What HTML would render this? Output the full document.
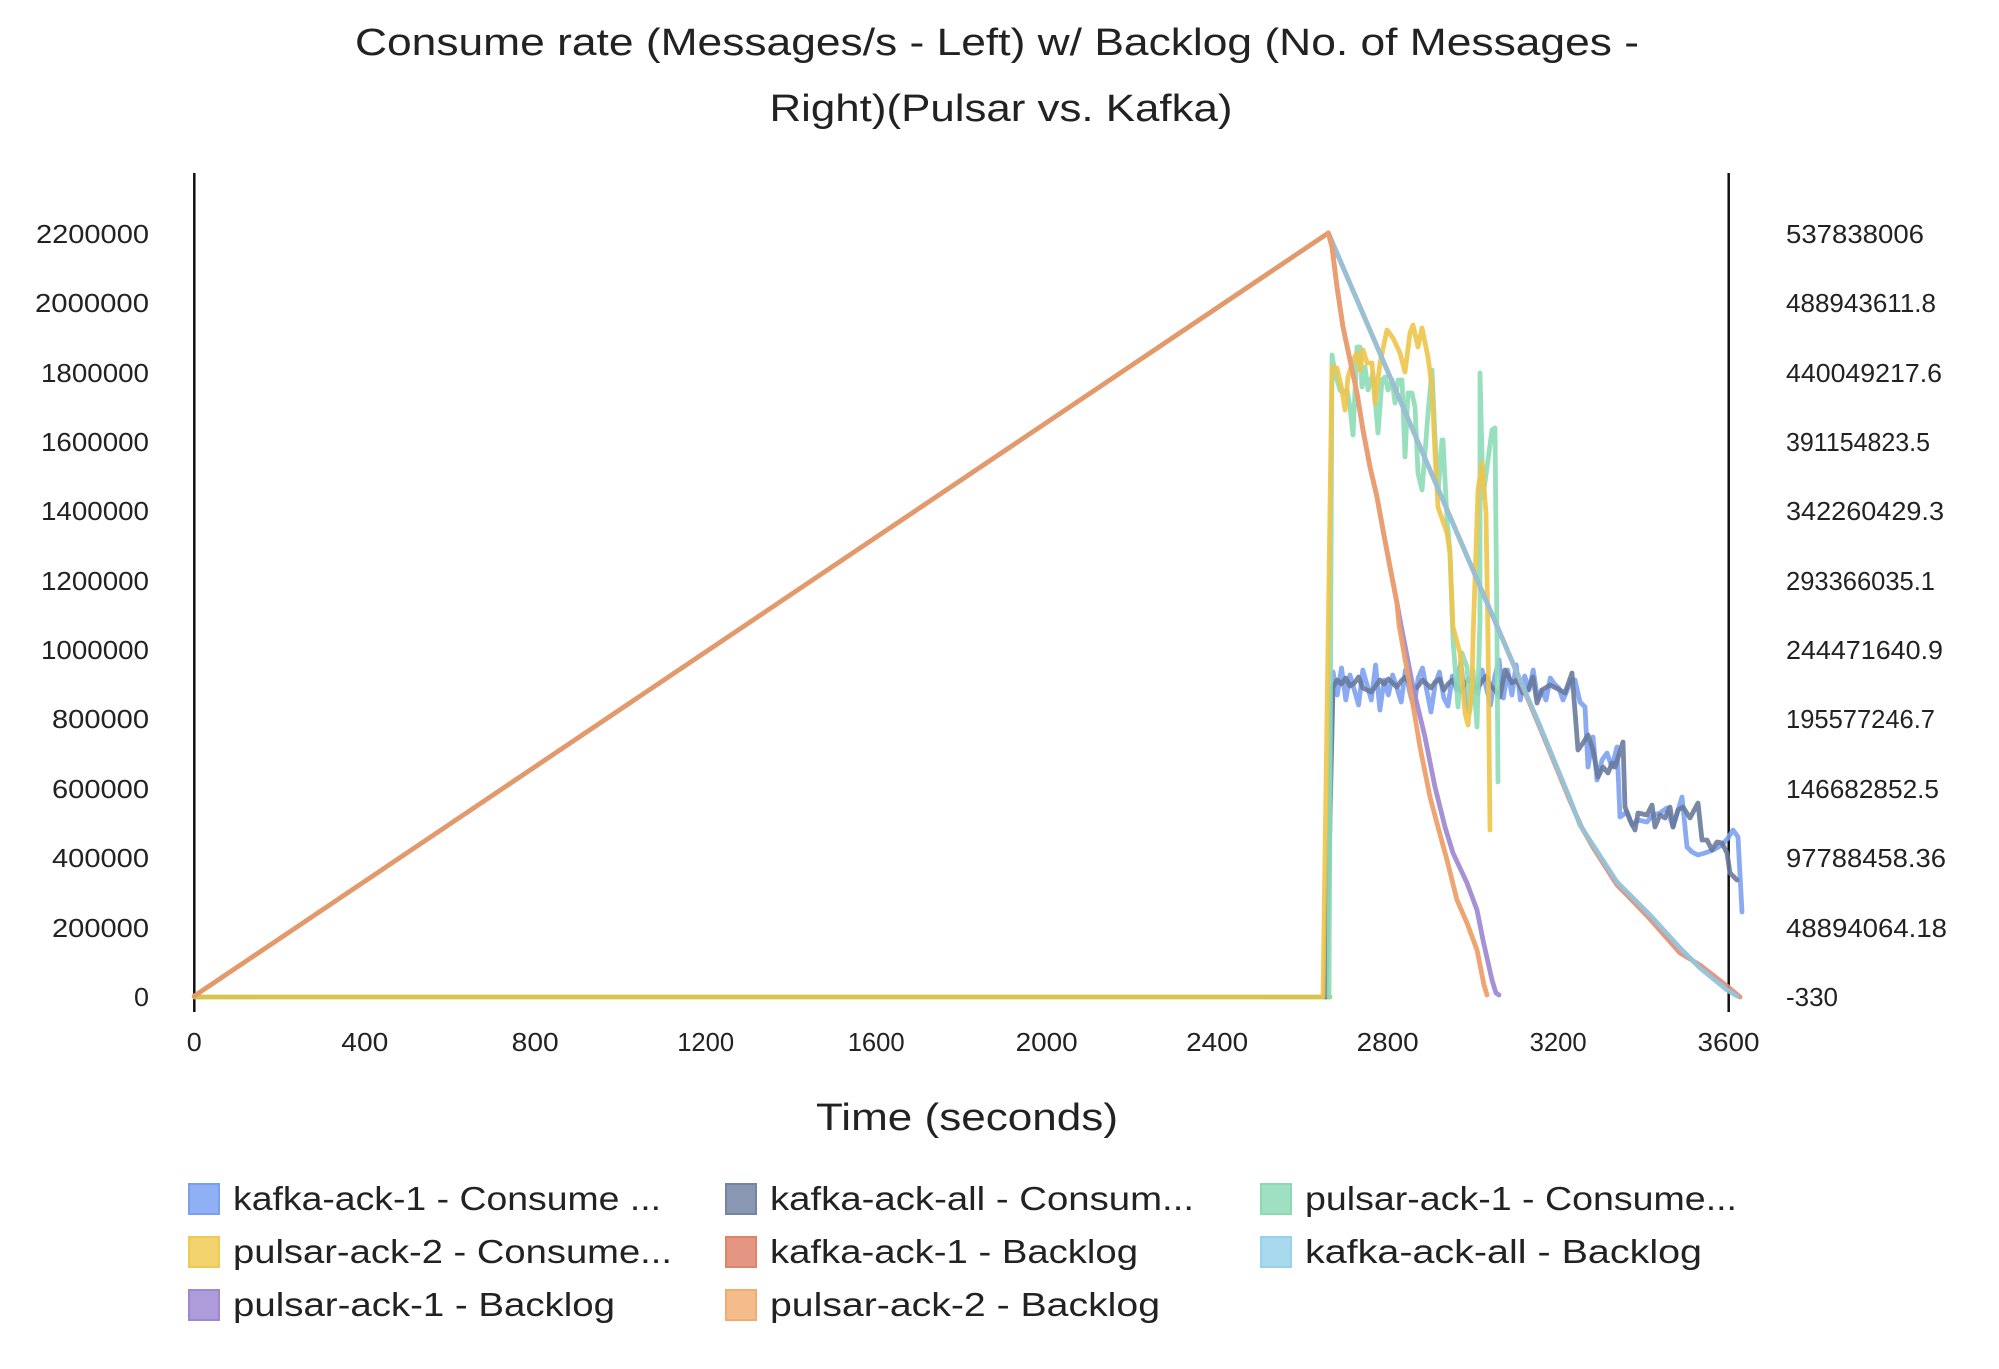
<!DOCTYPE html>
<html>
<head>
<meta charset="utf-8">
<style>
  html,body{margin:0;padding:0;background:#ffffff;}
  svg{display:block;}
  text{font-family:"Liberation Sans",sans-serif;fill:#222;}
</style>
</head>
<body>
<svg width="1999" height="1369" viewBox="0 0 1999 1369" xmlns="http://www.w3.org/2000/svg">
  <rect x="0" y="0" width="1999" height="1369" fill="#ffffff"/>

  <!-- Title -->
  <text x="997" y="55" font-size="38" text-anchor="middle" textLength="1284" lengthAdjust="spacingAndGlyphs">Consume rate (Messages/s - Left) w/ Backlog (No. of Messages -</text>
  <text x="1001" y="121" font-size="38" text-anchor="middle" textLength="463" lengthAdjust="spacingAndGlyphs">Right)(Pulsar vs. Kafka)</text>

  <!-- Left tick labels -->
  <g font-size="26" text-anchor="end" fill="#2a2a2a">
    <text x="149" y="243" textLength="113" lengthAdjust="spacingAndGlyphs">2200000</text>
    <text x="149" y="312" textLength="114" lengthAdjust="spacingAndGlyphs">2000000</text>
    <text x="149" y="382" textLength="108" lengthAdjust="spacingAndGlyphs">1800000</text>
    <text x="149" y="451" textLength="108" lengthAdjust="spacingAndGlyphs">1600000</text>
    <text x="149" y="520" textLength="108" lengthAdjust="spacingAndGlyphs">1400000</text>
    <text x="149" y="590" textLength="108" lengthAdjust="spacingAndGlyphs">1200000</text>
    <text x="149" y="659" textLength="108" lengthAdjust="spacingAndGlyphs">1000000</text>
    <text x="149" y="728" textLength="97" lengthAdjust="spacingAndGlyphs">800000</text>
    <text x="149" y="798" textLength="97" lengthAdjust="spacingAndGlyphs">600000</text>
    <text x="149" y="867" textLength="97" lengthAdjust="spacingAndGlyphs">400000</text>
    <text x="149" y="937" textLength="97" lengthAdjust="spacingAndGlyphs">200000</text>
    <text x="149" y="1006" textLength="15" lengthAdjust="spacingAndGlyphs">0</text>
  </g>

  <!-- Right tick labels -->
  <g font-size="26" text-anchor="start" fill="#2a2a2a">
    <text x="1786" y="243" textLength="138" lengthAdjust="spacingAndGlyphs">537838006</text>
    <text x="1786" y="312" textLength="150" lengthAdjust="spacingAndGlyphs">488943611.8</text>
    <text x="1786" y="382" textLength="156" lengthAdjust="spacingAndGlyphs">440049217.6</text>
    <text x="1786" y="451" textLength="144" lengthAdjust="spacingAndGlyphs">391154823.5</text>
    <text x="1786" y="520" textLength="158" lengthAdjust="spacingAndGlyphs">342260429.3</text>
    <text x="1786" y="590" textLength="149" lengthAdjust="spacingAndGlyphs">293366035.1</text>
    <text x="1786" y="659" textLength="157" lengthAdjust="spacingAndGlyphs">244471640.9</text>
    <text x="1786" y="728" textLength="149" lengthAdjust="spacingAndGlyphs">195577246.7</text>
    <text x="1786" y="798" textLength="153" lengthAdjust="spacingAndGlyphs">146682852.5</text>
    <text x="1786" y="867" textLength="160" lengthAdjust="spacingAndGlyphs">97788458.36</text>
    <text x="1786" y="937" textLength="161" lengthAdjust="spacingAndGlyphs">48894064.18</text>
    <text x="1786" y="1006" textLength="52" lengthAdjust="spacingAndGlyphs">-330</text>
  </g>

  <!-- X tick labels -->
  <g font-size="26" text-anchor="middle" fill="#2a2a2a">
    <text x="194.3" y="1051" textLength="15" lengthAdjust="spacingAndGlyphs">0</text>
    <text x="364.8" y="1051" textLength="47" lengthAdjust="spacingAndGlyphs">400</text>
    <text x="535.2" y="1051" textLength="47" lengthAdjust="spacingAndGlyphs">800</text>
    <text x="705.7" y="1051" textLength="57" lengthAdjust="spacingAndGlyphs">1200</text>
    <text x="876.2" y="1051" textLength="57" lengthAdjust="spacingAndGlyphs">1600</text>
    <text x="1046.6" y="1051" textLength="62" lengthAdjust="spacingAndGlyphs">2000</text>
    <text x="1217.1" y="1051" textLength="62" lengthAdjust="spacingAndGlyphs">2400</text>
    <text x="1387.6" y="1051" textLength="62" lengthAdjust="spacingAndGlyphs">2800</text>
    <text x="1558.1" y="1051" textLength="57" lengthAdjust="spacingAndGlyphs">3200</text>
    <text x="1728.5" y="1051" textLength="62" lengthAdjust="spacingAndGlyphs">3600</text>
  </g>

  <!-- X axis title -->
  <text x="967" y="1130" font-size="38" text-anchor="middle" textLength="302" lengthAdjust="spacingAndGlyphs">Time (seconds)</text>

  <!-- Axes -->
  <line x1="194.3" y1="173" x2="194.3" y2="1012" stroke="#111" stroke-width="2.5"/>
  <line x1="1728.7" y1="173" x2="1728.7" y2="1012" stroke="#111" stroke-width="2.5"/>

  <g fill="none" stroke-width="4.8" stroke-linejoin="round" stroke-linecap="round">
    <!-- zero baseline (all consume series overlapping) -->
    <polyline points="194.3,997 1330,997" stroke="#d7c44f"/>

    <!-- kafka-ack-1 Consume (blue) -->
    <polyline stroke="#7a9ff0" stroke-opacity="0.88" points="1325,997 1333.0,672 1337.3,695 1341.5,668 1345.8,700 1350.0,675 1354.3,690 1358.6,705 1362.8,670 1367.1,685 1371.3,700 1375.6,665 1379.9,710 1384.1,680 1388.4,695 1392.6,675 1396.9,688 1401.2,702 1405.4,670 1409.7,692 1413.9,708 1418.2,678 1422.5,668 1426.7,690 1431.0,712 1435.2,684 1439.5,672 1443.8,698 1448.0,706 1452.3,676 1456.5,690 1460.8,662 1465.1,700 1469.3,712 1473.6,680 1477.8,694 1482.1,670 1486.4,688 1490.6,705 1494.9,676 1499.1,660 1503.4,698 1507.7,670 1511.9,695 1516.2,665 1520.4,700 1524.7,676 1529.0,690 1533.2,670 1537.5,698 1541.7,690 1546.0,700 1550.3,678 1554.5,684 1558.8,688 1563.0,700 1567.3,690 1572,680 1575,680 1580,702 1585,707 1588,767 1593,737 1597,780 1602,760 1607,753 1612,767 1617,747 1620,817 1627,812 1632,825 1638,820 1647,822 1653,815 1660,813 1667,808 1673,827 1682,797 1687,847 1692,852 1698,855 1705,853 1713,850 1722,845 1728,838 1733,830 1738,837 1742,912"/>

    <!-- kafka-ack-all Consume (slate) -->
    <polyline stroke="#66779a" stroke-opacity="0.88" points="1326,997 1333.0,687 1337.3,680 1341.5,684 1345.8,678 1350.0,686 1354.3,683 1358.6,677 1362.8,688 1367.1,690 1371.3,692 1375.6,686 1379.9,680 1384.1,684 1388.4,679 1392.6,683 1396.9,687 1401.2,681 1405.4,677 1409.7,684 1413.9,690 1418.2,686 1422.5,680 1426.7,684 1431.0,688 1435.2,682 1439.5,679 1443.8,690 1448.0,684 1452.3,680 1456.5,686 1460.8,691 1465.1,683 1469.3,679 1473.6,685 1477.8,688 1482.1,681 1486.4,676 1490.6,686 1494.9,690 1500,697 1505,670 1512,683 1517,680 1523,693 1528,690 1533,677 1537,703 1542,690 1550,685 1556,688 1560,690 1565,693 1572,673 1578,750 1583,743 1588,735 1593,750 1598,777 1603,767 1608,773 1612,763 1615,767 1623,742 1625,807 1630,820 1635,830 1638,813 1647,815 1652,805 1655,827 1660,815 1665,818 1670,807 1673,827 1678,810 1683,807 1690,818 1698,803 1702,840 1707,840 1712,850 1717,842 1722,843 1727,853 1730,873 1737,880"/>

    <!-- pulsar-ack-1 Consume (green) -->
    <polyline stroke="#8ddcb6" stroke-opacity="0.9" points="1329,997 1332,355 1335,373 1340,390 1343,393 1347,390 1350,407 1353,435 1357,347 1360,347 1362,387 1365,367 1368,390 1373,373 1378,433 1382,380 1385,377 1388,390 1392,380 1395,403 1398,380 1402,380 1405,457 1408,393 1412,393 1415,407 1418,473 1422,490 1425,453 1428,413 1432,370 1435,437 1438,493 1442,440 1443,440 1447,520 1450,553 1453,640 1458,707 1462,653 1467,667 1470,710 1473,670 1477,727 1480,620 1480,373 1483,497 1488,460 1492,430 1495,428 1497,640 1498,782"/>

    <!-- pulsar-ack-2 Consume (yellow) -->
    <polyline stroke="#f0c44a" stroke-opacity="0.9" points="1323,997 1332,367 1337,368 1342,390 1345,410 1348,377 1353,360 1357,353 1360,370 1363,350 1367,363 1372,363 1375,403 1380,363 1387,330 1393,338 1400,353 1405,372 1410,333 1413,325 1418,347 1422,328 1428,357 1432,387 1435,453 1438,507 1447,533 1450,553 1453,627 1460,653 1465,713 1468,725 1472,687 1473,640 1478,490 1482,463 1486,513 1488,640 1490,830"/>

    <!-- rising backlog (all 4 overlapping) -->
    <polyline stroke="#e29a6d" points="194.3,996 1328.3,233"/>

    <!-- kafka-ack-1 Backlog (salmon) -->
    <polyline stroke="#e48a70" stroke-opacity="0.9" points="1328.3,233 1503,640 1540,728 1570,801 1582,828 1594,849 1617,885 1627,895 1650,919 1680,953 1700,965 1727,986 1740,997"/>
    <!-- kafka-ack-all Backlog (light blue) -->
    <polyline stroke="#93c3da" stroke-opacity="0.95" points="1328.3,233 1503,640 1540,726 1570,799 1580,825 1593,845 1617,882 1627,892 1650,915 1680,948 1700,968 1727,990 1737,996"/>

    <!-- pulsar-ack-1 Backlog (purple) -->
    <polyline stroke="#a08bd2" stroke-opacity="0.95" points="1328.3,233 1332,247 1337,287 1343,327 1350,360 1357,393 1363,430 1370,467 1377,497 1383,530 1390,567 1397,603 1401,625 1413,687 1425,737 1435,787 1445,827 1453,853 1467,883 1477,910 1483,940 1492,980 1496,993 1499,995"/>
    <!-- pulsar-ack-2 Backlog (orange) -->
    <polyline stroke="#eea06a" stroke-opacity="0.95" points="1328.3,233 1332,247 1337,287 1343,327 1350,360 1357,393 1363,430 1370,467 1377,497 1383,530 1390,567 1397,603 1399,625 1410,687 1420,747 1430,797 1438,827 1447,860 1457,900 1467,923 1477,950 1484,985 1487,995"/>
  </g>

  <!-- Legend -->
  <g font-size="33" fill="#222">
    <rect x="189" y="1184" width="30" height="30" fill="#8fb0f5" stroke="#7b9fee" stroke-width="2"/>
    <text x="233" y="1210" textLength="428" lengthAdjust="spacingAndGlyphs">kafka-ack-1 - Consume ...</text>
    <rect x="726" y="1184" width="30" height="30" fill="#8a97b3" stroke="#75849f" stroke-width="2"/>
    <text x="770" y="1210" textLength="424" lengthAdjust="spacingAndGlyphs">kafka-ack-all - Consum...</text>
    <rect x="1261" y="1184" width="30" height="30" fill="#9fe0c3" stroke="#8dd9b6" stroke-width="2"/>
    <text x="1305" y="1210" textLength="432" lengthAdjust="spacingAndGlyphs">pulsar-ack-1 - Consume...</text>

    <rect x="189" y="1237" width="30" height="30" fill="#f2d36e" stroke="#efc955" stroke-width="2"/>
    <text x="233" y="1263" textLength="439" lengthAdjust="spacingAndGlyphs">pulsar-ack-2 - Consume...</text>
    <rect x="726" y="1237" width="30" height="30" fill="#e59682" stroke="#df8469" stroke-width="2"/>
    <text x="770" y="1263" textLength="368" lengthAdjust="spacingAndGlyphs">kafka-ack-1 - Backlog</text>
    <rect x="1261" y="1237" width="30" height="30" fill="#a8d9ef" stroke="#99d1ea" stroke-width="2"/>
    <text x="1305" y="1263" textLength="397" lengthAdjust="spacingAndGlyphs">kafka-ack-all - Backlog</text>

    <rect x="189" y="1290" width="30" height="30" fill="#ae9bda" stroke="#9d88d1" stroke-width="2"/>
    <text x="233" y="1316" textLength="382" lengthAdjust="spacingAndGlyphs">pulsar-ack-1 - Backlog</text>
    <rect x="726" y="1290" width="30" height="30" fill="#f5bc8b" stroke="#f2ab72" stroke-width="2"/>
    <text x="770" y="1316" textLength="390" lengthAdjust="spacingAndGlyphs">pulsar-ack-2 - Backlog</text>
  </g>
</svg>
</body>
</html>
